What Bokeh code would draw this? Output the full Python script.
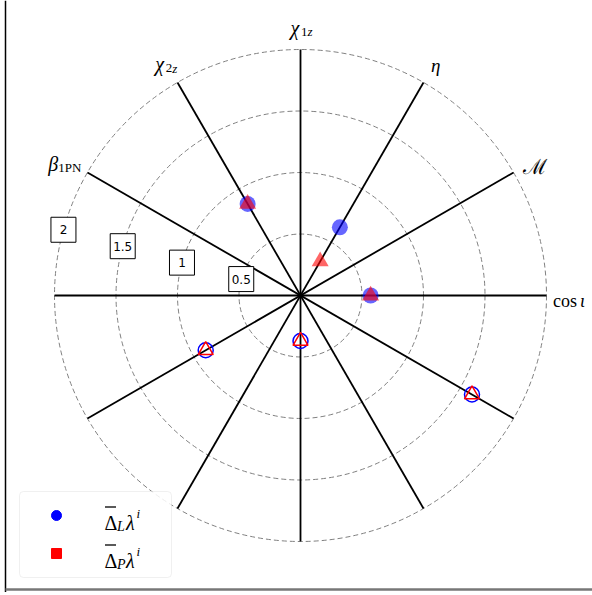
import numpy as np
from bokeh.plotting import figure
from bokeh.models import BoxAnnotation
from bokeh.core.properties import value
from bokeh.embed import file_html
from bokeh.resources import INLINE

# ---------------- data ----------------
axis_names = ["cos ι", "ℳ", "η", "χ1z", "χ2z", "β1PN"]
axis_angles = [0, 30, 60, 90, 120, 150]          # degrees
delta_L = [0.57, -0.89, 0.64, -0.37, 0.86, -1.61]
delta_P = [0.57, -0.89, 0.32, -0.37, 0.86, -1.61]
radial_ticks = [0.5, 1.0, 1.5, 2.0]
radial_tick_labels = ["0.5", "1", "1.5", "2"]
legend_subs = ["L", "P"]

# ---------------- layout ----------------
S = 123.0            # px per unit
W, H = 592, 592
CXp, CYp = 300, 295  # centre in page px
OX, OY = 0, 0        # canvas origin on page


def dx(xp):
    return (xp - CXp) / S


def dy(yp):
    return (CYp - yp) / S


p = figure(width=W, height=H, output_backend="svg", toolbar_location=None,
           x_range=(dx(OX), dx(OX + W)), y_range=(dy(OY + H), dy(OY)),
           min_border=0, x_axis_location=None, y_axis_location=None)
p.grid.visible = False
p.outline_line_color = None
p.background_fill_color = "white"

SERIF = "Liberation Serif"

# dashed rings
p.circle(x=[0] * len(radial_ticks), y=[0] * len(radial_ticks), radius=radial_ticks,
         fill_color=None, line_color="gray", line_dash="5 3", line_width=1)

# spokes
th = np.radians(axis_angles)
R = max(radial_ticks)
p.segment(x0=-R * np.cos(th), y0=-R * np.sin(th), x1=R * np.cos(th), y1=R * np.sin(th),
          line_color="black", line_width=1.8)

# radial tick labels in boxes
la = np.radians(164.5)
rt = np.array(radial_ticks)
p.rect(x=rt * np.cos(la), y=rt * np.sin(la), width=25, height=25,
       width_units="screen", height_units="screen",
       fill_color="white", line_color="black", line_width=1)
p.text(x=rt * np.cos(la), y=rt * np.sin(la), text=radial_tick_labels,
       text_align="center", text_baseline="middle", text_font_size="12px",
       text_font=value("DejaVu Sans"), text_color="black")


def piece(x, y, txt, ox, oy, size, style="normal", font=SERIF, align="left", level=None):
    r = p.text(x=[x], y=[y], text=[txt], x_offset=ox, y_offset=oy,
               text_font_size=f"{size}px", text_font_style=style,
               text_font=value(font), text_align=align,
               text_baseline="alphabetic", text_color="black")
    if level:
        r.level = level
    return r


# axis labels (pieces: text, x offset, y offset, size, style, font, align)
label_pieces = [
    [("cos", -18, 5, 18, "normal", SERIF, "left"), ("ι", 9, 5, 18, "italic", SERIF, "left")],
    [("ℳ", 0, 7, 21, "normal", "DejaVu Serif", "center")],
    [("η", 0, 4, 19, "italic", SERIF, "center")],
    [("χ", -10, 3, 20, "italic", SERIF, "left"), ("1", 0.5, 7, 13, "normal", SERIF, "left"),
     ("z", 7, 7, 13, "italic", SERIF, "left")],
    [("χ", -10, 3, 20, "italic", SERIF, "left"), ("2", 0.5, 7, 13, "normal", SERIF, "left"),
     ("z", 7, 7, 13, "italic", SERIF, "left")],
    [("β", -18, 4, 20, "italic", SERIF, "left"), ("1PN", -8, 7, 13, "normal", SERIF, "left")],
]
RL = 2.2
for ang, pcs in zip(axis_angles, label_pieces):
    a = np.radians(ang)
    for (t, ox, oy, sz, st, fn, al) in pcs:
        piece(RL * np.cos(a), RL * np.sin(a), t, ox, oy, sz, st, fn, al)


# data points
def polar(vals):
    v = np.array(vals, dtype=float)
    ang = np.radians(axis_angles) + np.where(v < 0, np.pi, 0.0)
    r = np.abs(v)
    return r * np.cos(ang), r * np.sin(ang), v >= 0


xL, yL, posL = polar(delta_L)
xP, yP, posP = polar(delta_P)

p.scatter(x=xL[posL], y=yL[posL], marker="circle", size=16,
          fill_color="blue", fill_alpha=0.6, line_color=None)
p.scatter(x=xL[~posL], y=yL[~posL], marker="circle", size=15,
          fill_color=None, line_color="blue", line_width=1.5)
p.scatter(x=xP[posP], y=yP[posP], marker="triangle", size=17,
          fill_color="red", fill_alpha=0.6, line_color=None)
p.scatter(x=xP[~posP], y=yP[~posP], marker="triangle", size=15,
          fill_color=None, line_color="red", line_width=1.5)

# legend
box = BoxAnnotation(left=dx(19), right=dx(171), top=dy(491), bottom=dy(577),
                    fill_color="white", fill_alpha=0.85, line_color="#cccccc",
                    line_width=1, border_radius=4)
p.add_layout(box)
lm1 = p.scatter(x=[dx(56)], y=[dy(515)], marker="circle", size=10,
                fill_color="blue", line_color="blue")
lm2 = p.scatter(x=[dx(56)], y=[dy(553)], marker="square", size=10,
                fill_color="red", line_color="red")
lm1.level = "overlay"
lm2.level = "overlay"
for sub, base in zip(legend_subs, [522, 560]):
    x0, y0 = dx(104), dy(base)
    piece(x0, y0, "Δ", 0, 0, 20, "normal", SERIF, "left", "overlay")
    bar = p.rect(x=[dx(110)], y=[dy(base - 15.5)], width=11, height=1.3,
                 width_units="screen", height_units="screen",
                 fill_color="black", line_color=None)
    bar.level = "overlay"
    piece(x0, y0, sub, 12.5, 4, 14, "italic", SERIF, "left", "overlay")
    piece(x0, y0, "λ", 21.5, 0, 20, "italic", SERIF, "left", "overlay")
    piece(x0, y0, "i", 32, -9, 13, "italic", SERIF, "left", "overlay")

# frame edges of the original image
p.segment(x0=[dx(5)], y0=[dy(OY + H)], x1=[dx(5)], y1=[dy(OY)],
          line_color="black", line_width=1.5)
p.segment(x0=[dx(5)], y0=[dy(589)], x1=[dx(OX + W)], y1=[dy(589)],
          line_color="#777777", line_width=2.5)

open("out.html", "w").write(file_html(p, INLINE))
